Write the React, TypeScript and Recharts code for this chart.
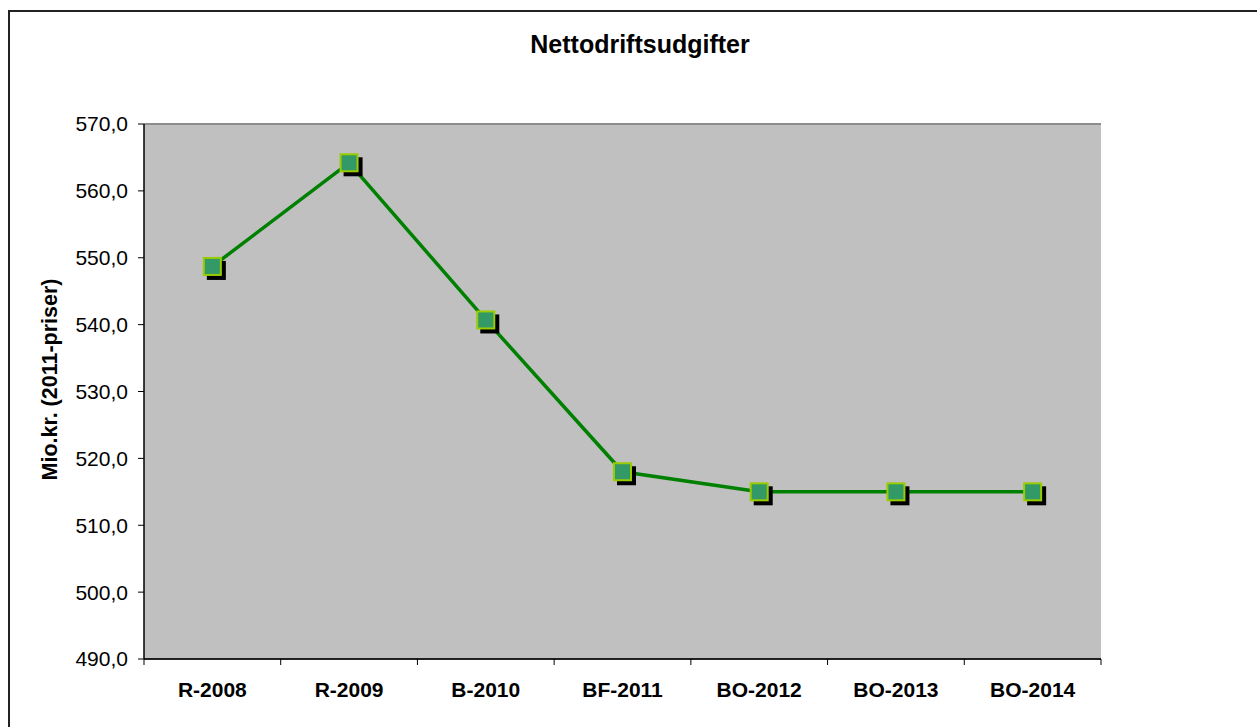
import React from 'react';
import { LineChart, Line, XAxis, YAxis, CartesianGrid, ReferenceLine } from 'recharts';

const categories = ['R-2008', 'R-2009', 'B-2010', 'BF-2011', 'BO-2012', 'BO-2013', 'BO-2014'];
const values = [548.7, 564.2, 540.7, 518.0, 515.0, 515.0, 515.0];
const yTicks = [490, 500, 510, 520, 530, 540, 550, 560, 570];

const data = categories.map((name, i) => ({ name, value: values[i] }));

const FONT = 'Liberation Sans, Arial, sans-serif';
const X_TICK_SIZE = 6;
const X_TICK_MARGIN = 17;

const SquareDot = (props: any) => {
  const { cx, cy, index } = props;
  if (cx == null || cy == null) return null;
  const s = 17;
  return (
    <g key={`dot-${index}`}>
      <rect x={cx - s / 2 - 1 + 4} y={cy - s / 2 - 1 + 4} width={s + 2} height={s + 2} fill="#000" />
      <rect x={cx - s / 2} y={cy - s / 2} width={s} height={s} fill="#339966" stroke="#99cc00" strokeWidth={2} />
    </g>
  );
};

const CatTick = (props: any) => {
  const { x, y, payload, width, visibleTicksCount, index } = props;
  const half = width && visibleTicksCount ? width / visibleTicksCount / 2 : 0;
  const y0 = y - X_TICK_SIZE - X_TICK_MARGIN;
  const isLast = visibleTicksCount ? index === visibleTicksCount - 1 : false;
  return (
    <g>
      <line x1={x - half} x2={x - half} y1={y0} y2={y0 + X_TICK_SIZE} stroke="#000" strokeWidth={1} />
      {isLast && <line x1={x + half} x2={x + half} y1={y0} y2={y0 + X_TICK_SIZE} stroke="#000" strokeWidth={1} />}
      <text x={x} y={y} dy="0.71em" textAnchor="middle" fontFamily={FONT} fontSize={21} fontWeight="bold" fill="#000">
        {payload.value}
      </text>
    </g>
  );
};

const YLabel = (props: any) => {
  const vb = props.viewBox || {};
  const x = vb.x + 50;
  const y = vb.y + vb.height / 2 - 12;
  return (
    <text
      x={x}
      y={y}
      transform={`rotate(-90, ${x}, ${y})`}
      textAnchor="middle"
      dominantBaseline="central"
      fontFamily={FONT}
      fontSize={21.5}
      fontWeight="bold"
      fill="#000"
    >
      Mio.kr. (2011-priser)
    </text>
  );
};

export default function App() {
  return (
    <div style={{ position: 'fixed', left: 0, top: 0, width: 1260, height: 727, overflow: 'hidden', background: '#fff', fontFamily: FONT }}>
      <div style={{ position: 'absolute', left: 8, top: 10, width: 1247, height: 715, borderLeft: '2px solid #222', borderTop: '2px solid #222', boxSizing: 'content-box' }} />
      <div style={{ position: 'absolute', left: 0, top: 32, width: 1260, paddingLeft: 20, boxSizing: 'border-box', textAlign: 'center', fontSize: 25, lineHeight: '25px', fontWeight: 'bold', color: '#000', fontFamily: FONT }}>
        Nettodriftsudgifter
      </div>
      <div style={{ position: 'absolute', left: 0, top: 0 }}>
        <LineChart width={1260} height={727} data={data} margin={{ top: 124, right: 159, bottom: 0, left: 0 }}>
          <CartesianGrid horizontal={true} vertical={false} fill="#c0c0c0" stroke="#2a2a2a" strokeWidth={1} fillOpacity={1} />
          <XAxis
            xAxisId="cat"
            dataKey="name"
            type="category"
            scale="band"
            height={68}
            tickSize={X_TICK_SIZE}
            tickMargin={X_TICK_MARGIN}
            tickLine={false}
            axisLine={{ stroke: '#000', strokeWidth: 1.5 }}
            tick={<CatTick />}
            interval={0}
          />
          <YAxis
            yAxisId="left"
            domain={[490, 570]}
            ticks={yTicks}
            width={144}
            tickSize={6}
            tickMargin={10}
            interval={0}
            allowDataOverflow
            tickFormatter={(v: number) => v.toFixed(1).replace('.', ',')}
            axisLine={{ stroke: '#000', strokeWidth: 1.5 }}
            tickLine={{ stroke: '#000', strokeWidth: 1 }}
            tick={{ fontSize: 21, fill: '#000', fontFamily: FONT }}
            label={<YLabel />}
          />
          <YAxis
            yAxisId="right"
            orientation="right"
            domain={[490, 570]}
            width={0}
            tick={false}
            tickLine={false}
            axisLine={{ stroke: '#8c8c8c', strokeWidth: 2 }}
          />
          <ReferenceLine yAxisId="left" xAxisId="cat" y={570} stroke="#8c8c8c" strokeWidth={2} />
          <Line
            xAxisId="cat"
            yAxisId="left"
            type="linear"
            dataKey="value"
            stroke="#008000"
            strokeWidth={3.5}
            dot={<SquareDot />}
            activeDot={false}
            isAnimationActive={false}
          />
        </LineChart>
      </div>
    </div>
  );
}
